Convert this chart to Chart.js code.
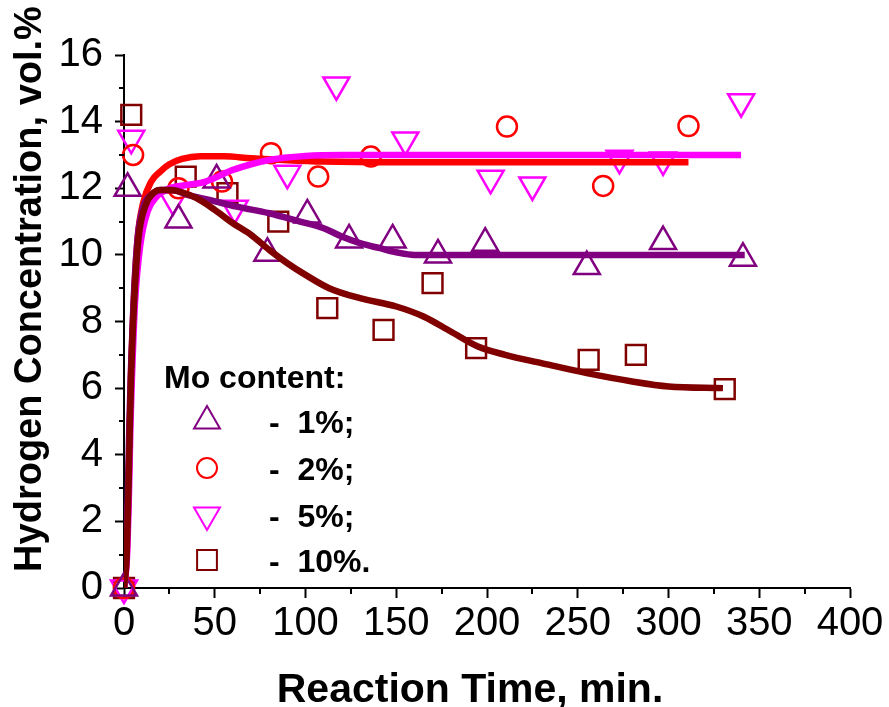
<!DOCTYPE html>
<html>
<head>
<meta charset="utf-8">
<script src="https://cdn.jsdelivr.net/npm/chart.js@4.4.1/dist/chart.umd.min.js"></script>
<style>
  html, body { margin: 0; padding: 0; background: #fff; }
  canvas { display: block; }
</style>
</head>
<body>
<canvas id="chart" width="889" height="707"></canvas>
<script>
// measured points (time, min / H2 vol.%)
const seriesLabels = ['1%', '2%', '5%', '10%'];
const seriesColors = ['#800080', '#FF0000', '#FF00FF', '#800000'];

const t1 = [0, 2, 30, 51, 79, 101, 124, 148, 173, 199, 255, 297, 341];
const h1 = [0, 12.0, 11.05, 12.25, 10.05, 11.2, 10.45, 10.45, 10.0, 10.35, 9.65, 10.4, 9.9];

const t2 = [0, 5, 30, 54, 81, 107, 136, 211, 264, 311];
const h2 = [0, 13.0, 12.0, 12.2, 13.05, 12.35, 12.95, 13.85, 12.07, 13.87];

const t5 = [0, 4, 27, 61, 90, 117, 155, 202, 225, 273, 297, 340];
const h5 = [0, 13.5, 11.65, 11.4, 12.45, 15.1, 13.45, 12.3, 12.1, 12.9, 12.85, 14.6];

const t10 = [0, 4, 34, 57, 85, 112, 143, 170, 194, 256, 282, 331];
const h10 = [0, 14.2, 12.35, 11.85, 11.0, 8.4, 7.75, 9.15, 7.2, 6.85, 7.0, 5.97];

// fitted curves
const fitT1 = [0, 1.3, 2.2, 3, 3.8, 5.2, 7.5, 11, 15, 20, 27, 35, 47, 62, 80, 97, 110, 120, 130, 141, 150, 160, 175, 200, 250, 300, 342];
const fitH1 = [0, 1, 3, 5, 6.5, 8.5, 10.5, 11.5, 11.8, 11.95, 11.95, 11.8, 11.65, 11.45, 11.25, 11.0, 10.8, 10.55, 10.35, 10.2, 10.08, 10.0, 10.0, 10.0, 10.0, 10.0, 10.0];

const fitT2 = [0, 1.5, 2.5, 3.3, 4, 5.5, 7.5, 10.5, 15, 20, 25, 32, 42, 55, 70, 90, 110, 150, 200, 250, 311];
const fitH2 = [0, 1, 3, 5, 6.6, 8.7, 10.5, 11.55, 12.2, 12.5, 12.72, 12.88, 12.96, 12.96, 12.9, 12.84, 12.8, 12.78, 12.78, 12.78, 12.78];

const fitT5 = [0, 1.7, 2.8, 3.6, 4.5, 6, 9, 13, 18, 25, 35, 45, 60, 80, 100, 120, 150, 200, 250, 300, 340];
const fitH5 = [0, 1, 3, 5, 6.5, 8.5, 10.3, 11.3, 11.75, 12.0, 12.1, 12.2, 12.55, 12.85, 12.97, 13.0, 13.0, 13.0, 13.0, 13.0, 13.0];

const fitT10 = [0, 1.5, 2.5, 3.3, 4, 5.5, 8, 12, 16, 20, 25, 32, 40, 50, 60, 70, 80, 90, 100, 113, 130, 150, 165, 180, 195, 210, 230, 255, 280, 300, 330];
const fitH10 = [0, 1, 3, 5, 6.5, 8.5, 10.5, 11.5, 11.85, 11.95, 11.95, 11.88, 11.7, 11.35, 10.95, 10.6, 10.15, 9.75, 9.4, 9.0, 8.7, 8.45, 8.15, 7.7, 7.25, 7.0, 6.75, 6.45, 6.2, 6.05, 6.0];

const xTicks = [0, 50, 100, 150, 200, 250, 300, 350, 400];
const yTicks = [0, 2, 4, 6, 8, 10, 12, 14, 16];

const FONT = "'Liberation Sans', Arial, sans-serif";
const toXY = (xs, ys) => xs.map((x, i) => ({ x, y: ys[i] }));

const markers = [
  { style: 'triangle', radius: 15, rotation: 0 },
  { style: 'circle', radius: 10, rotation: 0 },
  { style: 'triangle', radius: 15, rotation: 180 },
  { style: 'rect', radius: 14, rotation: 0 },
];

const pointSets = [[t1, h1], [t2, h2], [t5, h5], [t10, h10]];
const fitSets = [[fitT1, fitH1], [fitT2, fitH2], [fitT5, fitH5], [fitT10, fitH10]];
const fitOrder = [2, 4, 3, 1];

const datasets = [];
pointSets.forEach(([xs, ys], i) => {
  datasets.push({
    label: seriesLabels[i],
    data: toXY(xs, ys),
    showLine: false,
    pointStyle: markers[i].style,
    pointRadius: markers[i].radius,
    pointRotation: markers[i].rotation,
    pointBorderWidth: 2.5,
    pointBorderColor: seriesColors[i],
    pointBackgroundColor: 'rgba(0,0,0,0)',
    pointHoverRadius: markers[i].radius,
    clip: false,
    order: 5 + i,
  });
});
fitSets.forEach(([xs, ys], i) => {
  datasets.push({
    label: 'fit ' + seriesLabels[i],
    data: toXY(xs, ys),
    showLine: true,
    borderColor: seriesColors[i],
    borderWidth: 6.5,
    pointRadius: 0,
    cubicInterpolationMode: 'monotone',
    order: fitOrder[i],
  });
});

// minor ticks, axis titles and the legend block
const extras = {
  id: 'extras',
  afterDraw(chart) {
    const { ctx, scales: { x, y }, chartArea } = chart;
    ctx.save();
    ctx.strokeStyle = '#000';
    ctx.lineWidth = 2;
    for (let v = 25; v < 400; v += 50) {
      const px = Math.round(x.getPixelForValue(v));
      ctx.beginPath();
      ctx.moveTo(px, chartArea.bottom);
      ctx.lineTo(px, chartArea.bottom + 6);
      ctx.stroke();
    }
    for (let v = 1; v < 16; v += 2) {
      const py = Math.round(y.getPixelForValue(v));
      ctx.beginPath();
      ctx.moveTo(chartArea.left, py);
      ctx.lineTo(chartArea.left - 5, py);
      ctx.stroke();
    }

    ctx.fillStyle = '#000';
    ctx.font = `bold 41px ${FONT}`;
    ctx.textAlign = 'center';
    ctx.textBaseline = 'alphabetic';
    ctx.fillText('Reaction Time, min.', 470, 702);

    ctx.save();
    ctx.translate(41, 289);
    ctx.rotate(-Math.PI / 2);
    ctx.font = `bold 38px ${FONT}`;
    ctx.fillText('Hydrogen Concentration, vol.%', 0, 0);
    ctx.restore();

    ctx.textAlign = 'left';
    ctx.font = `bold 32px ${FONT}`;
    ctx.fillText('Mo content:', 164, 388);
    const rowY = [421, 468, 515, 560];
    seriesLabels.forEach((lab, i) => {
      ctx.strokeStyle = seriesColors[i];
      ctx.fillStyle = 'rgba(0,0,0,0)';
      Chart.helpers.drawPoint(ctx, {
        pointStyle: markers[i].style,
        radius: markers[i].radius,
        rotation: markers[i].rotation,
        borderWidth: 2.5,
      }, 207, rowY[i]);
      ctx.fillStyle = '#000';
      const end = i === seriesLabels.length - 1 ? '.' : ';';
      ctx.fillText('-  ' + lab + end, 269, rowY[i] + 12);
    });
    ctx.restore();
  },
};

new Chart(document.getElementById('chart'), {
  type: 'scatter',
  data: { datasets },
  options: {
    responsive: false,
    animation: false,
    layout: { padding: { left: 0, right: 39, top: 55, bottom: 0 } },
    plugins: { legend: { display: false }, tooltip: { enabled: false } },
    scales: {
      x: {
        type: 'linear',
        min: 0,
        max: 400,
        z: 1,
        afterFit: s => { s.height = 119; },
        afterBuildTicks: s => { s.ticks = xTicks.map(v => ({ value: v })); },
        border: { display: true, color: '#000', width: 2 },
        grid: { drawOnChartArea: false, drawTicks: true, tickLength: 10, tickColor: '#000', tickWidth: 2 },
        ticks: { color: '#000', font: { family: FONT, size: 40 }, padding: 2, maxRotation: 0, autoSkip: false },
      },
      y: {
        type: 'linear',
        min: 0,
        max: 16,
        z: 1,
        afterFit: s => { s.width = 124; },
        afterBuildTicks: s => { s.ticks = yTicks.map(v => ({ value: v })); },
        border: { display: true, color: '#000', width: 2 },
        grid: { drawOnChartArea: false, drawTicks: true, tickLength: 9, tickColor: '#000', tickWidth: 2 },
        ticks: { color: '#000', font: { family: FONT, size: 40 }, padding: 12, autoSkip: false },
      },
    },
  },
  plugins: [extras],
});
</script>
</body>
</html>
